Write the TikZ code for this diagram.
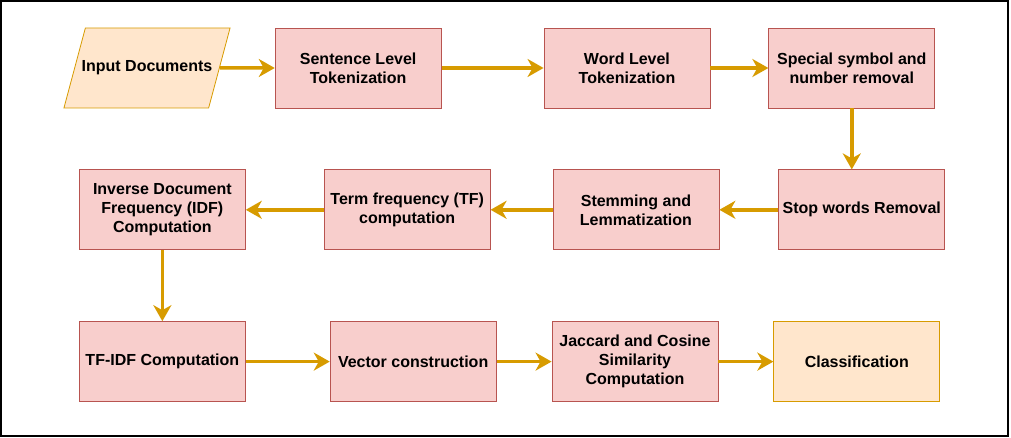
\documentclass[tikz,border=0pt]{standalone}
\usepackage{fontspec}
\setmainfont{Liberation Sans}
\usetikzlibrary{positioning, arrows.meta, shapes.geometric}
\definecolor{arrowgold}{HTML}{D79B00}
\definecolor{blockfill}{HTML}{F8CECC}
\definecolor{blockline}{HTML}{B85450}
\definecolor{inputfill}{HTML}{FFE6CC}
\tikzset{
block/.style={
  draw=blockline,
  fill=blockfill,
  rectangle,
  line width=0.8pt,
  minimum height=80pt,
  minimum width=166pt, align=center,
  font=\fontsize{16}{19}\selectfont\bfseries
  },
finalblock/.style={block, draw=arrowgold, fill=inputfill},
inputshape/.style={
  block, trapezium, trapezium stretches body=true,
  trapezium left angle=75, trapezium right angle=105,
  minimum height=0pt, minimum width=0pt,
  text height=11.5pt, text depth=3.5pt, inner ysep=32.5pt, inner xsep=-3.7pt,
  draw=arrowgold, fill=inputfill
  },
line/.style={-{Stealth[length=16pt,width=18pt,inset=5pt]}, draw=arrowgold, line width=3.5pt}
}
\begin{document}
\begin{tikzpicture}[x=1pt, y=-1pt]
\useasboundingbox (0,0) rectangle (1011,438);
\draw[line width=1.5pt] (1,1) rectangle (1008,436);

\node[inputshape]	(input)		at (147,68)						{Input Documents};
\node[block]	(sentence)	[right=55pt of input]				{Sentence Level \\ Tokenization};
\node[block]	(word)		[right=102pt of sentence]			{Word Level \\ Tokenization};
\node[block]	(special)	[right=58pt of word]				{Special symbol and \\ number removal};
\node[block]	(stopwords)	[below=61pt of special, xshift=10pt]	{Stop words Removal};
\node[block]	(stemming)	[left=59pt of stopwords]			{Stemming and \\ Lemmatization};
\node[block]	(termfreq)	[left=62pt of stemming]				{Term frequency (TF) \\ computation};
\node[block]	(idf)		[left=78pt of termfreq]				{Inverse Document \\ Frequency (IDF) \\ Computation};
\node[block]	(tfidf)		[below=71pt of idf]					{TF-IDF Computation};
\node[block]	(vector)	[right=84pt of tfidf]				{Vector construction};
\node[block]	(jaccard)	[right=55pt of vector]				{Jaccard and Cosine \\ Similarity \\ Computation};
\node[finalblock]	(classify)	[right=55pt of jaccard]			{Classification};

\draw[line] (input) -- (sentence);
\draw[line] (sentence) -- (word);
\draw[line] (word) -- (special);
\draw[line] (special.south) -- (special.south |- stopwords.north);
\draw[line] (stopwords) -- (stemming);
\draw[line] (stemming) -- (termfreq);
\draw[line] (termfreq) -- (idf);
\draw[line] (idf) -- (tfidf);
\draw[line] (tfidf) -- (vector);
\draw[line] (vector) -- (jaccard);
\draw[line] (jaccard) -- (classify);
\end{tikzpicture}
\end{document}
